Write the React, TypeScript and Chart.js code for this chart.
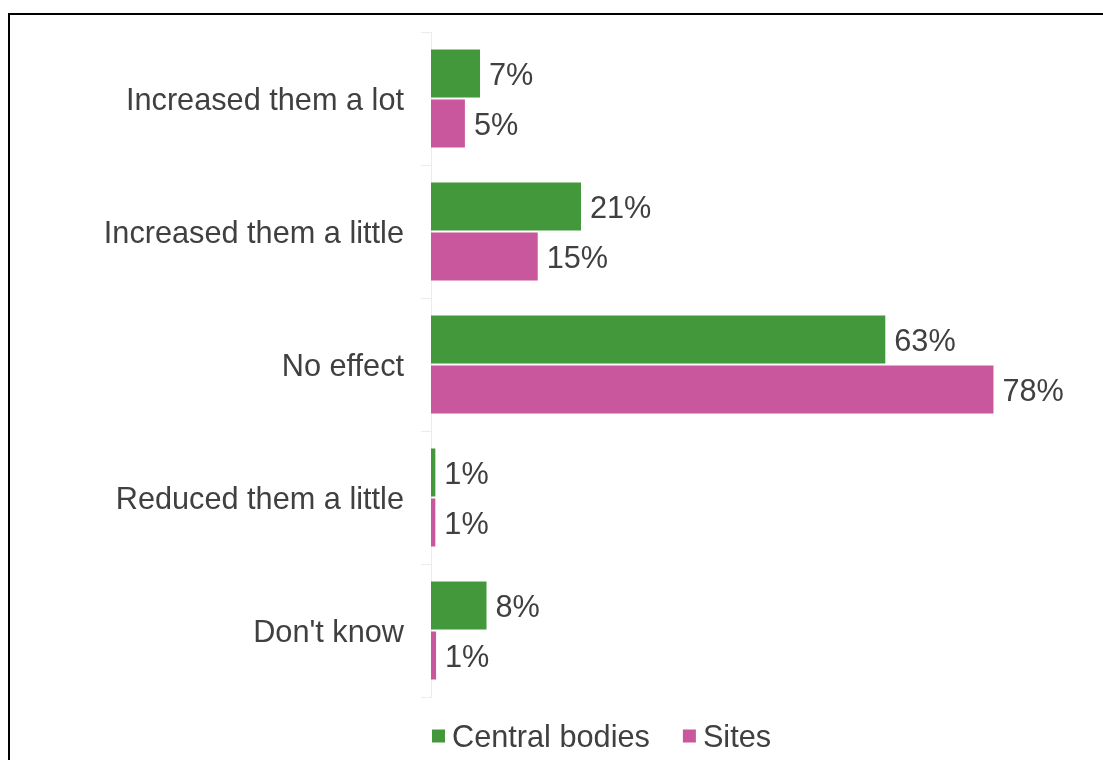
import React, { useEffect, useRef } from "react";
import { Chart, registerables } from "chart.js";

Chart.register(...registerables);

const categories = [
  "Increased them a lot",
  "Increased them a little",
  "No effect",
  "Reduced them a little",
  "Don't know",
];
const seriesNames = ["Central bodies", "Sites"];
const centralBodies = [6.8, 20.8, 63, 0.6, 7.7];
const sites = [4.7, 14.8, 78, 0.6, 0.7];
const seriesColors = ["#43983b", "#c9579e"];

const FONT = "'Liberation Sans', Arial, sans-serif";
const FONT_SIZE = 30.7;
const TEXT = "#404040";
const AXIS = "#ececec";

const valueLabels = {
  id: "valueLabels",
  afterDatasetsDraw(chart: any) {
    const ctx = chart.ctx;
    ctx.save();
    ctx.font = `${FONT_SIZE}px ${FONT}`;
    ctx.fillStyle = TEXT;
    ctx.textBaseline = "middle";
    ctx.textAlign = "left";
    chart.data.datasets.forEach((ds: any, di: number) => {
      chart.getDatasetMeta(di).data.forEach((bar: any, i: number) => {
        const v = ds.data[i];
        ctx.fillText(Math.round(v) + "%", bar.x + 9, bar.y + 3);
      });
    });
    ctx.restore();
  },
};

const bottomLegend = {
  id: "bottomLegend",
  afterDraw(chart: any) {
    const { ctx, chartArea } = chart;
    const cy = chartArea.bottom + 39;
    let x = chartArea.left + 1;
    ctx.save();
    ctx.font = `${FONT_SIZE}px ${FONT}`;
    ctx.textBaseline = "middle";
    ctx.textAlign = "left";
    chart.data.datasets.forEach((ds: any) => {
      ctx.fillStyle = ds.backgroundColor;
      ctx.fillRect(x, cy - 6.5, 13, 13);
      ctx.fillStyle = TEXT;
      ctx.fillText(ds.label, x + 20, cy + 3);
      x += 20 + ctx.measureText(ds.label).width + 33;
    });
    ctx.restore();
  },
};

export default function App() {
  const canvasRef = useRef<HTMLCanvasElement | null>(null);

  useEffect(() => {
    if (!canvasRef.current) return;
    Chart.defaults.font.family = FONT;
    const chart = new Chart(canvasRef.current, {
      type: "bar",
      data: {
        labels: categories,
        datasets: [
          {
            label: seriesNames[0],
            data: centralBodies,
            backgroundColor: seriesColors[0],
            categoryPercentage: 0.752,
            barPercentage: 0.96,
          },
          {
            label: seriesNames[1],
            data: sites,
            backgroundColor: seriesColors[1],
            categoryPercentage: 0.752,
            barPercentage: 0.96,
          },
        ],
      },
      options: {
        indexAxis: "y",
        responsive: false,
        animation: false,
        layout: { padding: { top: 17, right: 23, bottom: 63, left: 0 } },
        plugins: {
          legend: { display: false },
          tooltip: { enabled: false },
        },
        scales: {
          x: { display: false, min: 0, max: 90 },
          y: {
            type: "category",
            grid: {
              drawOnChartArea: false,
              tickLength: 10,
              color: AXIS,
              offset: true,
            },
            border: { color: AXIS },
            ticks: {
              color: TEXT,
              font: { size: FONT_SIZE, family: FONT },
              padding: 17,
              labelOffset: 3,
              autoSkip: false,
            },
            afterFit(scale: any) {
              scale.width = 421;
              scale.paddingTop = 0;
              scale.paddingBottom = 0;
            },
          },
        },
      },
      plugins: [valueLabels, bottomLegend],
    } as any);
    return () => chart.destroy();
  }, []);

  return (
    <div
      style={{
        position: "fixed",
        left: 0,
        top: 0,
        width: "100vw",
        height: "100vh",
        overflow: "hidden",
        background: "#fff",
      }}
    >
      <div
        style={{
          position: "absolute",
          left: 8,
          top: 13,
          width: 1200,
          height: 820,
          border: "2px solid #000",
        }}
      >
        <canvas
          ref={canvasRef}
          width={1093}
          height={745}
          style={{ display: "block" }}
        />
      </div>
    </div>
  );
}
